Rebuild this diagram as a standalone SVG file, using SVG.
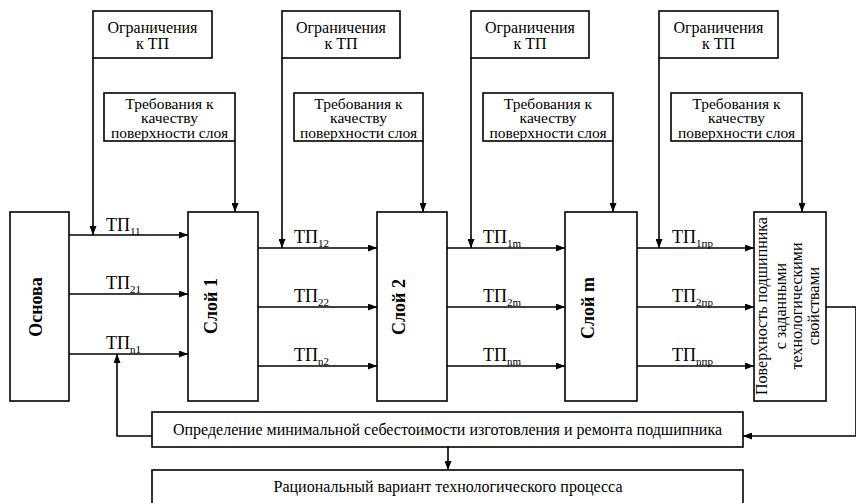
<svg xmlns="http://www.w3.org/2000/svg" width="856" height="503" viewBox="0 0 856 503">
<style>
.box{fill:#fff;stroke:#000;stroke-width:1.6}
.t{font-family:"Times New Roman","Liberation Serif","DejaVu Serif",serif;font-size:16px;fill:#000;text-anchor:middle}
.r{font-size:15.5px}
.b{font-family:"Times New Roman","Liberation Serif","DejaVu Serif",serif;font-size:18px;font-weight:bold;fill:#000;text-anchor:middle}
.tp{font-family:"Times New Roman","Liberation Serif","DejaVu Serif",serif;font-size:18px;fill:#000}
.sub{font-size:11px}
.c{fill:none;stroke:#000;stroke-width:1.6}
</style>
<defs>
<marker id="ah" markerUnits="userSpaceOnUse" markerWidth="9" markerHeight="7" refX="9" refY="3.5" orient="auto">
<path d="M0,0 L9,3.5 L0,7 z" fill="#000"/>
</marker>
</defs>

<g id="connectors">
<path class="c" d="M93,58 V235" marker-end="url(#ah)"/>
<path class="c" d="M282,58 V248" marker-end="url(#ah)"/>
<path class="c" d="M471,58 V248" marker-end="url(#ah)"/>
<path class="c" d="M659,58 V248" marker-end="url(#ah)"/>
<path class="c" d="M235,141 V212" marker-end="url(#ah)"/>
<path class="c" d="M423,141 V212" marker-end="url(#ah)"/>
<path class="c" d="M613,141 V212" marker-end="url(#ah)"/>
<path class="c" d="M802,141 V212" marker-end="url(#ah)"/>
<path class="c" d="M69,235 H188" marker-end="url(#ah)"/>
<path class="c" d="M69,294 H188" marker-end="url(#ah)"/>
<path class="c" d="M69,354 H188" marker-end="url(#ah)"/>
<path class="c" d="M258,248 H377" marker-end="url(#ah)"/>
<path class="c" d="M258,307 H377" marker-end="url(#ah)"/>
<path class="c" d="M258,366 H377" marker-end="url(#ah)"/>
<path class="c" d="M447,248 H565" marker-end="url(#ah)"/>
<path class="c" d="M447,307 H565" marker-end="url(#ah)"/>
<path class="c" d="M447,366 H565" marker-end="url(#ah)"/>
<path class="c" d="M637,248 H754" marker-end="url(#ah)"/>
<path class="c" d="M637,307 H754" marker-end="url(#ah)"/>
<path class="c" d="M637,366 H754" marker-end="url(#ah)"/>
<path class="c" d="M152,436 H117 V354" marker-end="url(#ah)"/>
<path class="c" d="M826,307 H856 V436 H743" marker-end="url(#ah)"/>
<path class="c" d="M448,447 V470" marker-end="url(#ah)"/>
<text class="tp" x="106" y="231">ТП<tspan class="sub" dy="4">11</tspan></text>
<text class="tp" x="106" y="289">ТП<tspan class="sub" dy="4">21</tspan></text>
<text class="tp" x="106" y="349">ТП<tspan class="sub" dy="4">n1</tspan></text>
<text class="tp" x="294" y="243">ТП<tspan class="sub" dy="4">12</tspan></text>
<text class="tp" x="294" y="302">ТП<tspan class="sub" dy="4">22</tspan></text>
<text class="tp" x="294" y="361">ТП<tspan class="sub" dy="4">n2</tspan></text>
<text class="tp" x="483" y="243">ТП<tspan class="sub" dy="4">1m</tspan></text>
<text class="tp" x="483" y="302">ТП<tspan class="sub" dy="4">2m</tspan></text>
<text class="tp" x="483" y="361">ТП<tspan class="sub" dy="4">nm</tspan></text>
<text class="tp" x="672" y="243">ТП<tspan class="sub" dy="4">1пр</tspan></text>
<text class="tp" x="672" y="302">ТП<tspan class="sub" dy="4">2пр</tspan></text>
<text class="tp" x="672" y="361">ТП<tspan class="sub" dy="4">nпр</tspan></text>
</g>

<g id="ogr1"><rect class="box" x="93" y="11" width="119" height="47"/><text class="t" x="152.5" y="33">Ограничения</text><text class="t" x="152.5" y="49">к ТП</text></g>
<g id="ogr2"><rect class="box" x="282" y="11" width="118" height="47"/><text class="t" x="341" y="33">Ограничения</text><text class="t" x="341" y="49">к ТП</text></g>
<g id="ogr3"><rect class="box" x="471" y="11" width="118" height="47"/><text class="t" x="530" y="33">Ограничения</text><text class="t" x="530" y="49">к ТП</text></g>
<g id="ogr4"><rect class="box" x="659" y="11" width="119" height="47"/><text class="t" x="718.5" y="33">Ограничения</text><text class="t" x="718.5" y="49">к ТП</text></g>

<g id="treb1"><rect class="box" x="104" y="93" width="131" height="48"/><text class="t r" x="169.5" y="108.5">Требования к</text><text class="t r" x="169.5" y="123">качеству</text><text class="t r" x="169.5" y="137.5">поверхности слоя</text></g>
<g id="treb2"><rect class="box" x="294" y="93" width="129" height="48"/><text class="t r" x="358.5" y="108.5">Требования к</text><text class="t r" x="358.5" y="123">качеству</text><text class="t r" x="358.5" y="137.5">поверхности слоя</text></g>
<g id="treb3"><rect class="box" x="483" y="93" width="130" height="48"/><text class="t r" x="548" y="108.5">Требования к</text><text class="t r" x="548" y="123">качеству</text><text class="t r" x="548" y="137.5">поверхности слоя</text></g>
<g id="treb4"><rect class="box" x="671" y="93" width="131" height="48"/><text class="t r" x="736.5" y="108.5">Требования к</text><text class="t r" x="736.5" y="123">качеству</text><text class="t r" x="736.5" y="137.5">поверхности слоя</text></g>

<g id="osnova"><rect class="box" x="10" y="212" width="59" height="189"/><text class="b" transform="translate(42,307) rotate(-90)">Основа</text></g>
<g id="sloy1"><rect class="box" x="188" y="212" width="70" height="189"/><text class="b" transform="translate(217,306) rotate(-90)">Слой 1</text></g>
<g id="sloy2"><rect class="box" x="377" y="212" width="70" height="189"/><text class="b" transform="translate(405,307) rotate(-90)">Слой 2</text></g>
<g id="sloym"><rect class="box" x="565" y="212" width="72" height="189"/><text class="b" transform="translate(594,308) rotate(-90)">Слой m</text></g>
<g id="surface"><rect class="box" x="754" y="212" width="72" height="189"/>
<g transform="translate(0,306) rotate(-90)">
<text class="t" x="0" y="767">Поверхность подшипника</text>
<text class="t" x="0" y="786">с заданными</text>
<text class="t" x="0" y="802">технологическими</text>
<text class="t" x="0" y="819">свойствами</text>
</g></g>

<g id="opred"><rect class="box" x="152" y="412" width="591" height="35"/><text class="t" x="447.5" y="435">Определение минимальной себестоимости изготовления и ремонта подшипника</text></g>
<g id="ratsion"><rect class="box" x="152" y="470" width="591" height="45"/><text class="t" x="448" y="492">Рациональный вариант технологического процесса</text></g>
</svg>
